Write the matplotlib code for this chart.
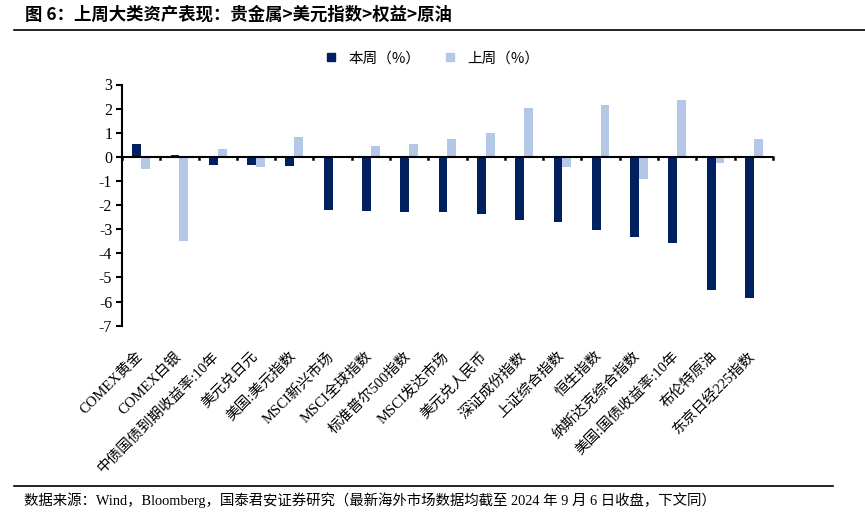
import matplotlib
matplotlib.use("Agg")
import matplotlib.pyplot as plt
import numpy as np
from matplotlib.lines import Line2D

plt.rcParams['font.family'] = ['Liberation Serif', 'Noto Sans CJK SC', 'DejaVu Sans']

categories = ["COMEX黄金", "COMEX白银", "中债国债到期收益率:10年", "美元兑日元", "美国:美元指数",
              "MSCI新兴市场", "MSCI全球指数", "标准普尔500指数", "MSCI发达市场", "美元兑人民币",
              "深证成份指数", "上证综合指数", "恒生指数", "纳斯达克综合指数", "美国:国债收益率:10年",
              "布伦特原油", "东京日经225指数"]
this_week = [0.54, 0.07, -0.33, -0.33, -0.36, -2.19, -2.24, -2.28, -2.28, -2.39,
             -2.62, -2.70, -3.03, -3.32, -3.58, -5.52, -5.85]
last_week = [-0.49, -3.47, 0.34, -0.43, 0.83, 0.0, 0.43, 0.55, 0.72, 0.97,
             2.03, -0.43, 2.13, -0.91, 2.34, -0.26, 0.75]
yticks = [3, 2, 1, 0, -1, -2, -3, -4, -5, -6, -7]

dark = "#002060"
light = "#B4C7E7"

fig = plt.figure(figsize=(8.65, 5.2), dpi=100)
ax = fig.add_axes([0.141, 0.3737, 0.7526, 0.4638])

x = np.arange(len(categories))
w = 0.23
ax.bar(x - w / 2, this_week, width=w, color=dark, label="本周（%）", zorder=2)
ax.bar(x + w / 2, last_week, width=w, color=light, label="上周（%）", zorder=2)

ax.set_xlim(-0.5, len(categories) - 0.5)
ax.set_ylim(-7, 3)
ax.set_yticks(yticks)
ax.set_yticklabels([str(v) for v in yticks], fontsize=11.5, family=['Liberation Serif'])
ax.tick_params(axis='y', direction='out', length=4, width=1.5, pad=3)

for s in ['top', 'right', 'bottom']:
    ax.spines[s].set_visible(False)
ax.spines['left'].set_linewidth(1.5)
ax.axhline(0, color='black', lw=1.5, zorder=3)

# category boundary ticks on zero line
ax.set_xticks([])
for b in np.arange(-0.5, len(categories), 1.0):
    ax.plot([b, b], [0, -0.1], color='black', lw=1.8, zorder=3, clip_on=False)

for i, c in enumerate(categories):
    ax.annotate(c, xy=(i, -7), xycoords='data', xytext=(-4, -17), textcoords='offset points',
                rotation=45, ha='right', va='top', rotation_mode='anchor', fontsize=10.5,
                family=['Liberation Serif', 'Noto Sans CJK SC'], annotation_clip=False)

leg = fig.legend(handles=[Line2D([], [], marker='s', ls='', color=dark, markersize=6),
                          Line2D([], [], marker='s', ls='', color=light, markersize=6)],
                 labels=["本周（%）", "上周（%）"], loc='center', bbox_to_anchor=(0.495, 0.888),
                 ncol=2, frameon=False, handletextpad=0.2, columnspacing=1.0,
                 prop={'family': ['Noto Sans CJK SC'], 'size': 10.5})

fig.text(0.029, 0.972, "图 6：上周大类资产表现：贵金属>美元指数>权益>原油", fontsize=12.5,
         fontweight='bold', family=['Noto Sans CJK SC'], va='center', ha='left')
fig.add_artist(Line2D([0.016, 1.0], [0.942, 0.942], color='black', lw=1.2, transform=fig.transFigure))
fig.add_artist(Line2D([0.016, 0.963], [0.065, 0.065], color='black', lw=1.2, transform=fig.transFigure))
fig.text(0.028, 0.038, "数据来源：Wind，Bloomberg，国泰君安证券研究（最新海外市场数据均截至 2024 年 9 月 6 日收盘，下文同）",
         fontsize=10.4, family=['Liberation Serif', 'Noto Sans CJK SC'], va='center', ha='left')

fig.savefig("out.png", dpi=100)
